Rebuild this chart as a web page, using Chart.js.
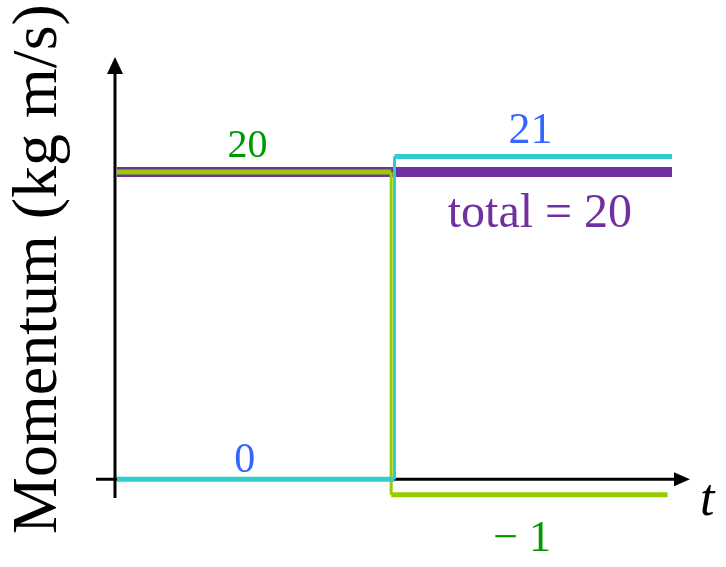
<!DOCTYPE html>
<html lang="en">
<head>
    <meta charset="UTF-8">
    <title>Momentum before and after</title>
    <script src="https://cdn.jsdelivr.net/npm/chart.js"></script>
    <style>
        html, body { margin: 0; padding: 0; background: #fff; }
        #wrap { width: 726px; height: 567px; }
    </style>
</head>
<body>
    <div id="wrap"><canvas id="momentumChart" width="726" height="567"></canvas></div>

    <script>
        // time values (arbitrary units) and momentum values (kg m/s)
        const cyanT = [0, 5, 5, 10];
        const cyanP = [0, 0, 21, 21];
        const greenT = [0, 4.94, 4.94, 9.92];
        const greenP = [20, 20, -1, -1];
        const totalT = [0, 10];
        const totalP = [20, 20];

        // value labels: text, time, momentum
        const labelText = ['20', '0', '21', 'total = 20', '\u2212 1'];
        const labelT = [2.35, 2.30, 7.45, 7.62, 7.30];
        const labelP = [20, 0, 21, 20, -1];

        const toPoints = (ts, ps) => ts.map((t, i) => ({ x: t, y: ps[i] }));

        const serif = '"Liberation Serif", "Times New Roman", serif';

        // labels above / below their lines
        const labelStyle = [
            { color: '#009900', size: 40, dy: -15 },
            { color: '#3366FF', size: 42, dy: -7 },
            { color: '#3366FF', size: 44, dy: -14 },
            { color: '#7030A0', size: 48, dy: 55 },
            { color: '#009900', size: 44, dy: 56 }
        ];

        // vertical (step) segments drawn thinner than the flat ones
        const stepWidth = ctx => (ctx.p0.parsed.x === ctx.p1.parsed.x ? 3 : 5);

        const axesPlugin = {
            id: 'axesPlugin',
            beforeDatasetsDraw(chart) {
                const ctx = chart.ctx;
                const xs = chart.scales.x, ys = chart.scales.y;
                const x0 = xs.getPixelForValue(0) - 2;
                const y0 = ys.getPixelForValue(0);
                ctx.save();
                ctx.strokeStyle = '#000';
                ctx.fillStyle = '#000';
                ctx.lineWidth = 3;
                // y axis
                ctx.beginPath();
                ctx.moveTo(x0, 498);
                ctx.lineTo(x0, 72);
                ctx.stroke();
                ctx.beginPath();
                ctx.moveTo(x0, 57);
                ctx.lineTo(x0 - 8, 74);
                ctx.lineTo(x0 + 8, 74);
                ctx.closePath();
                ctx.fill();
                // x axis
                ctx.beginPath();
                ctx.moveTo(96, y0);
                ctx.lineTo(676, y0);
                ctx.stroke();
                ctx.beginPath();
                ctx.moveTo(690, y0);
                ctx.lineTo(674, y0 - 7);
                ctx.lineTo(674, y0 + 7);
                ctx.closePath();
                ctx.fill();
                ctx.restore();
            },
            afterDatasetsDraw(chart) {
                const ctx = chart.ctx;
                const xs = chart.scales.x, ys = chart.scales.y;
                ctx.save();
                // value labels
                ctx.textAlign = 'center';
                ctx.textBaseline = 'alphabetic';
                labelText.forEach((txt, i) => {
                    const s = labelStyle[i];
                    ctx.font = s.size + 'px ' + serif;
                    ctx.fillStyle = s.color;
                    ctx.fillText(txt, xs.getPixelForValue(labelT[i]), ys.getPixelForValue(labelP[i]) + s.dy);
                });

                // axis titles
                ctx.fillStyle = '#000';
                ctx.font = 'italic 52px ' + serif;
                ctx.textAlign = 'left';
                ctx.fillText('t', 700, 515);

                ctx.translate(56, 269);
                ctx.rotate(-Math.PI / 2);
                ctx.textAlign = 'center';
                ctx.font = '64px ' + serif;
                ctx.fillText('Momentum (kg m/s)', 0, 0);
                ctx.restore();
            }
        };

        const ctx = document.getElementById('momentumChart').getContext('2d');
        new Chart(ctx, {
            type: 'scatter',
            data: {
                datasets: [
                    {
                        label: 'object 1',
                        data: toPoints(cyanT, cyanP),
                        showLine: true,
                        borderColor: '#33CCCC',
                        borderWidth: 5,
                        pointRadius: 0,
                        borderCapStyle: 'butt',
                        segment: { borderWidth: stepWidth }
                    },
                    {
                        label: 'object 2',
                        data: toPoints(greenT, greenP),
                        showLine: true,
                        borderColor: '#99CC00',
                        borderWidth: 5,
                        pointRadius: 0,
                        borderCapStyle: 'butt',
                        segment: { borderWidth: stepWidth }
                    },
                    {
                        label: 'total',
                        data: toPoints(totalT, totalP),
                        showLine: true,
                        borderColor: '#7030A0',
                        borderWidth: 10,
                        pointRadius: 0,
                        borderCapStyle: 'butt'
                    }
                ]
            },
            options: {
                responsive: false,
                animation: false,
                layout: { padding: { left: 117, right: 54, top: 49, bottom: 57 } },
                scales: {
                    x: { type: 'linear', display: false, min: 0, max: 10 },
                    y: { type: 'linear', display: false, min: -2, max: 28 }
                },
                plugins: {
                    legend: { display: false },
                    tooltip: { enabled: false }
                }
            },
            plugins: [axesPlugin]
        });
    </script>
</body>
</html>
